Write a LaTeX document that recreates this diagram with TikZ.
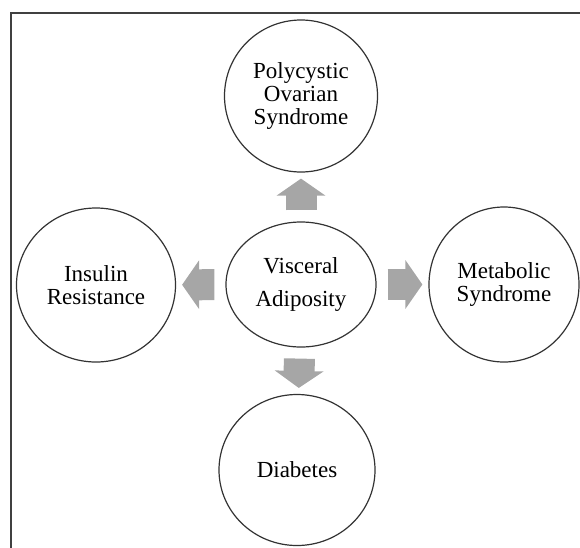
\documentclass[tikz,border=0pt]{standalone}
\usepackage{fontspec}
\setmainfont{Liberation Serif}
\usetikzlibrary{positioning}
\usetikzlibrary{arrows.meta,shapes}
\usetikzlibrary{shapes.geometric}
\tikzstyle{outer}=[ellipse,draw=black!80,line width=1.2pt,fill=white,inner sep=0pt,align=center,font=\fontsize{23}{23}\selectfont]
\tikzstyle{inner}=[ellipse,draw=black!80,line width=1.2pt,fill=white,inner sep=0pt,align=center,minimum width=150pt,minimum height=125pt,font=\fontsize{23}{33}\selectfont]
\tikzstyle{bigarrow} = [draw=black!35,line width=31pt,-{Triangle[width=48pt,length=17pt]},shorten <=11pt,shorten >=6pt]
\tikzstyle{frame} = [draw=black!75,line width=1.5pt]

\begin{document}
\begin{tikzpicture}[x=1pt,y=-1pt]
    \useasboundingbox (0,0) rectangle (580,547);
    \clip (0,0) rectangle (580,547);
    \path[frame] (11,13) rectangle (600,570);

    \foreach \pos/\name/\cw/\cht/\label in {{(301,96)/pcos/153/152/{Polycystic\\Ovarian\\Syndrome}}, {(96,285)/ins/159/154/{Insulin\\Resistance}}, {(504,284.5)/met/150/155/{Metabolic\\Syndrome}}, {(297,470)/diab/156/151/{Diabetes}}}
        \node[outer,minimum width=\cw pt,minimum height=\cht pt] (\name) at \pos {\label};

    \node[inner] (va) at (301,284.5) {Visceral\\Adiposity};

    \foreach \source/ \dest in {va/pcos, va/ins, va/met, va/diab}
        \path[bigarrow] (\source) -- (\dest);

\end{tikzpicture}
\end{document}
